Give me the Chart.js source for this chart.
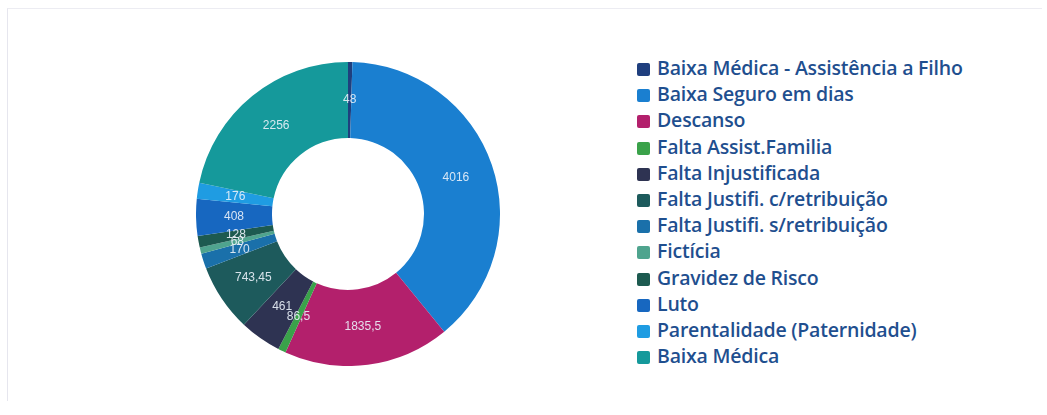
<!DOCTYPE html>
<html>
<head>
<meta charset="utf-8">
<script src="https://cdn.jsdelivr.net/npm/chart.js@4.4.0/dist/chart.umd.min.js"></script>
<style>
  body { margin: 0; background: #fff; }
  #frame { position: absolute; left: 7px; top: 8px; width: 1034px; height: 392px; border-left: 1px solid #e6e6ee; border-top: 1px solid #ececf2; }
  #chartBox { position: absolute; left: 196px; top: 62px; width: 304px; height: 304px; }
  #legend { position: absolute; left: 637px; top: 55px; font-family: "Open Sans", sans-serif; font-weight: 600; font-size: 19.5px; letter-spacing: -0.2px; color: #1f4f8f; }
  #legend div { height: 26.2px; line-height: 26.2px; white-space: nowrap; }
  #legend span { display: inline-block; width: 13px; height: 13px; border-radius: 2px; margin-right: 7px; vertical-align: -1px; }
</style>
</head>
<body>
<div id="frame"></div>
<div id="chartBox"><canvas id="donutChart"></canvas></div>
<div id="legend"></div>
<script>
var labels = ['Baixa Médica - Assistência a Filho', 'Baixa Seguro em dias', 'Descanso', 'Falta Assist.Familia',
  'Falta Injustificada', 'Falta Justifi. c/retribuição', 'Falta Justifi. s/retribuição', 'Fictícia',
  'Gravidez de Risco', 'Luto', 'Parentalidade (Paternidade)', 'Baixa Médica'];
var values = [48, 4016, 1835.5, 86.5, 461, 743.45, 170, 68, 128, 408, 176, 2256];
var colors = ['#1f3f7e', '#1a7fd0', '#b3206c', '#3aa24a', '#2e3352', '#1d5a5c', '#1a70aa', '#4fa48e',
  '#1d5a50', '#1767c0', '#1f9ce2', '#15999b'];

// html legend
var legendHtml = '';
labels.forEach(function (l, i) {
    legendHtml += '<div><span style="background:' + colors[i] + '"></span>' + l + '</div>';
});
document.getElementById('legend').innerHTML = legendHtml;

// draw the values on each slice
var sliceLabels = {
    id: 'sliceLabels',
    afterDatasetsDraw: function (chart) {
        var ctx = chart.ctx;
        var meta = chart.getDatasetMeta(0);
        ctx.save();
        ctx.font = '12px "Liberation Sans", sans-serif';
        ctx.fillStyle = 'rgba(235,242,250,0.9)';
        ctx.textAlign = 'center';
        ctx.textBaseline = 'middle';
        meta.data.forEach(function (arc, i) {
            var p = arc.tooltipPosition();
            ctx.fillText(String(values[i]).replace('.', ','), p.x, p.y);
        });
        ctx.restore();
    }
};

var donutChart = new Chart(document.getElementById('donutChart').getContext('2d'), {
    type: 'doughnut',
    data: {
        labels: labels,
        datasets: [{ data: values, backgroundColor: colors, borderWidth: 0 }]
    },
    options: {
        maintainAspectRatio: false,
        responsive: true,
        animation: false,
        cutout: '50%',
        plugins: { legend: { display: false }, tooltip: { enabled: false } }
    },
    plugins: [sliceLabels]
});
</script>
</body>
</html>
